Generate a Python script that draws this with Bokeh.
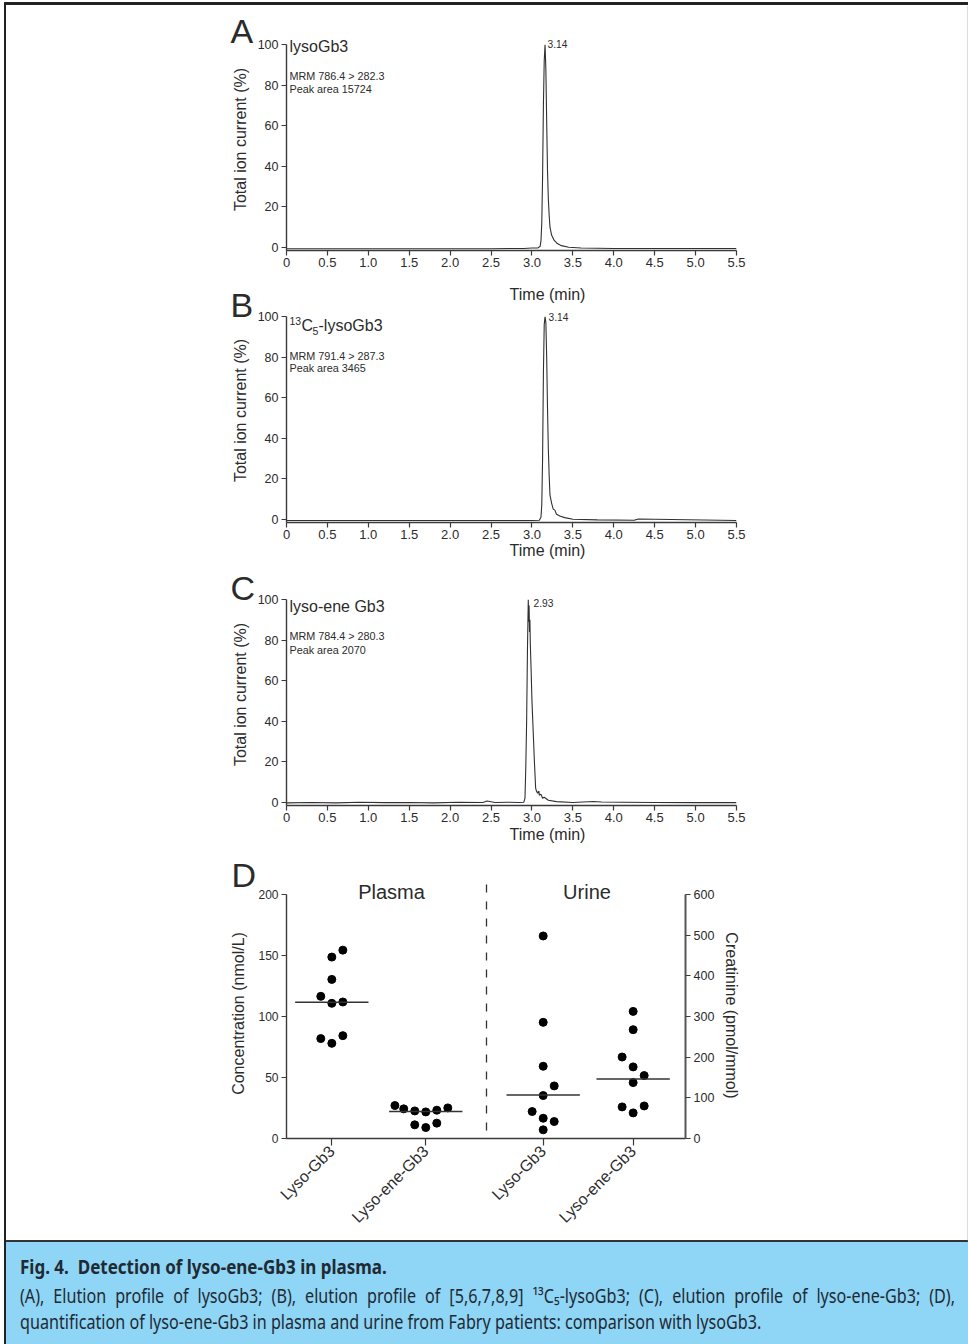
from math import pi

from bokeh.embed import file_html
from bokeh.layouts import column
from bokeh.models import Div, FixedTicker, Label, LinearAxis, PrintfTickFormatter, Range1d
from bokeh.plotting import figure
from bokeh.resources import INLINE

# chromatograms
time_a = [0, 0.5, 1.0, 1.5, 2.0, 2.5, 2.9, 3.0, 3.07, 3.10, 3.11, 3.12, 3.13, 3.14, 3.15, 3.16, 3.17, 3.18, 3.19, 3.20,
          3.21, 3.22, 3.24, 3.27, 3.31, 3.36, 3.45, 3.6, 4.0, 5.5]
pct_a = [-0.7, -0.7, -0.7, -0.7, -0.7, -0.7, -0.6, -0.4, -0.4, 0.5, 3, 12, 35, 70, 92, 100, 88, 62, 38, 24,
         16, 10, 6, 3.5, 1.8, 0.8, 0, -0.4, -0.6, -0.6]

time_b = [0, 0.5, 1.0, 1.5, 2.0, 2.5, 3.0, 3.09, 3.11, 3.12, 3.13, 3.14, 3.15, 3.16, 3.17, 3.18, 3.19, 3.20, 3.21, 3.22,
          3.24, 3.26, 3.28, 3.30, 3.34, 3.4, 3.5, 3.8, 4.25, 4.3, 5.5]
pct_b = [-0.6, -0.6, -0.6, -0.6, -0.6, -0.6, -0.6, -0.5, 1, 7, 30, 72, 96, 100, 97, 80, 55, 35, 22, 12,
         8, 5, 4.5, 2.5, 1.6, 0.8, 0, -0.3, -0.5, 0.1, -0.6]

time_c = [0, 0.3, 0.6, 0.9, 1.2, 1.5, 1.8, 2.1, 2.4, 2.45, 2.55, 2.7, 2.85, 2.90, 2.915, 2.925, 2.935, 2.945, 2.955,
          2.96, 2.965, 2.97, 2.975, 2.98, 2.99, 3.0, 3.015, 3.03, 3.045, 3.055, 3.07, 3.085, 3.09, 3.11, 3.13, 3.15, 3.2,
          3.3, 3.5, 3.75, 3.85, 4.1, 4.5, 5.0, 5.5]
pct_c = [-0.3, -0.1, -0.3, 0, -0.2, -0.1, -0.3, 0, -0.1, 0.6, -0.1, 0, -0.1, 0, 2, 18, 40, 75, 100,
         89, 97, 84, 90, 78, 65, 50, 35, 20, 7, 5.5, 4.5, 5.5, 3.5, 4, 2, 2.5, 1,
         0.3, -0.1, 0.4, 0.1, 0, -0.1, -0.2, -0.2]

# scatter panel, concentration against the left axis
groups = ["Lyso-Gb3", "Lyso-ene-Gb3", "Lyso-Gb3", "Lyso-ene-Gb3"]
group_x = [0.477, 1.466, 2.702, 3.649]
plasma_gb3 = [154.4, 148.7, 130.4, 116.5, 110.8, 111.9, 81.9, 78.0, 84.3]
plasma_gb3_off = [1, 0, 0, -1, 0, 1, -1, 0, 1]
plasma_ene = [27.0, 24.3, 22.6, 21.8, 23.2, 25.1, 11.2, 9.0, 12.6]
plasma_ene_off = [-2.8, -2, -1, 0, 1, 2, -1, 0, 1]
urine_gb3 = [166.0, 95.2, 59.2, 43.1, 35.2, 22.1, 16.6, 13.9, 7.1]
urine_gb3_off = [0, 0, 0, 1, 0, -1, 0, 1, 0]
urine_ene = [104.2, 89.2, 66.8, 58.7, 51.6, 45.8, 25.9, 26.7, 21.0]
urine_ene_off = [0, 0, -1, 0, 1, 0, -1, 1, 0]
medians = [111.6, 22.1, 35.7, 48.8]

time_ticks = [0, 0.5, 1.0, 1.5, 2.0, 2.5, 3.0, 3.5, 4.0, 4.5, 5.0, 5.5]
pct_ticks = [0, 20, 40, 60, 80, 100]

FONT = "Liberation Sans"
INK = "#2b2b2b"
LEFT = 280
WIDTH = 962
ORIGIN_X = 6
ORIGIN_Y = 5


def style_axis(ax, tick_size="12.5px"):
    ax.axis_line_color = "#3a3a3a"
    ax.axis_line_width = 1.4
    ax.major_tick_line_color = "#3a3a3a"
    ax.major_tick_line_width = 1.2
    ax.major_tick_in = 0
    ax.major_tick_out = 5
    ax.minor_tick_line_color = None
    ax.major_label_text_font = FONT
    ax.major_label_text_font_size = tick_size
    ax.major_label_text_color = INK
    ax.major_label_standoff = 3


def base_figure(height, top, bottom, x_range, y_range, right=232):
    p = figure(width=WIDTH, height=height, x_range=x_range, y_range=y_range,
               output_backend="svg", toolbar_location=None, frame_align=False,
               min_border_left=LEFT, min_border_right=right, min_border_top=top, min_border_bottom=bottom,
               background_fill_color=None, border_fill_color=None, outline_line_color=None)
    p.grid.visible = False
    return p


# labels get clipped to a plot's frame, so the ones outside it live on a see-through
# figure over the whole page whose data units are page pixels
overlay = figure(width=WIDTH, height=1339, x_range=Range1d(ORIGIN_X, ORIGIN_X + WIDTH),
                 y_range=Range1d(ORIGIN_Y + 1339, ORIGIN_Y), x_axis_location=None, y_axis_location=None,
                 output_backend="svg", toolbar_location=None, frame_align=False,
                 min_border=0, background_fill_color=None, border_fill_color=None, outline_line_color=None,
                 styles={"position": "absolute", "left": "0px", "top": "0px", "pointer-events": "none"})
overlay.grid.visible = False


def note(x, y, text, size, **kw):
    overlay.add_layout(Label(x=x, y=y, text=text, text_font=FONT, text_font_size=size, text_color=INK,
                             text_baseline="middle", **kw))


def chromatogram(times, pcts, height, top, bottom, margin_top, letter, letter_y, mrm, mrm_y, area, area_y,
                 peak, peak_x, peak_y, time_y, label_y):
    p = base_figure(height, top, bottom, Range1d(0, 5.5), Range1d(-1.6, 100))
    p.line(times, pcts, line_color="#303030", line_width=1.1)
    p.xaxis.ticker = FixedTicker(ticks=time_ticks)
    p.xaxis.formatter = PrintfTickFormatter(format="%.1f")
    p.xaxis.major_label_overrides = {0: "0"}
    p.yaxis.ticker = FixedTicker(ticks=pct_ticks)
    style_axis(p.xaxis[0], tick_size="13px")
    p.xaxis.major_label_standoff = 2
    style_axis(p.yaxis[0])
    note(230, letter_y, letter, "34px")
    note(289, area_y, "Peak area " + area, "10.8px")
    note(289, mrm_y, "MRM " + mrm, "10.8px")
    note(peak_x, peak_y, peak, "10.2px")
    note(547, time_y, "Time (min)", "16px", text_align="center")
    note(240, label_y, "Total ion current (%)", "16px", text_align="center", angle=pi / 2)
    if margin_top:
        p.margin = (-margin_top, 0, 0, 0)
    return p


panel_a = chromatogram(time_a, pct_a, 301, 39, 56, 0, "A", 30, "786.4 > 282.3", 75, "15724", 88, "3.14", 547, 43, 294, 139)
panel_b = chromatogram(time_b, pct_b, 270, 26, 38, 16, "B", 304, "791.4 > 287.3", 355, "3465", 367, "3.14", 548, 316, 550, 410)
panel_c = chromatogram(time_c, pct_c, 285, 39, 40, 0, "C", 587, "784.4 > 280.3", 635, "2070", 649, "2.93", 533, 602, 834, 694)
note(289, 46, "lysoGb3", "16px")
note(289, 606, "lyso-ene Gb3", "16px")
note(289, 320, "13", "10.5px")
note(301, 325, "C", "16px")
note(312, 330, "5", "10.5px")
note(318, 325, "-lysoGb3", "16px")

# scatter panel
panel_d = base_figure(395, 49, 102, Range1d(0, 4.2), Range1d(0, 200), right=283)
panel_d.extra_y_ranges = {"creatinine": Range1d(0, 600)}
step = 0.116
half = 0.386
for center, values, offsets, middle in [(group_x[0], plasma_gb3, plasma_gb3_off, medians[0]),
                                        (group_x[1], plasma_ene, plasma_ene_off, medians[1]),
                                        (group_x[2], urine_gb3, urine_gb3_off, medians[2]),
                                        (group_x[3], urine_ene, urine_ene_off, medians[3])]:
    xs = [center + o * step for o in offsets]
    panel_d.scatter(xs, values, size=8, color="black")
    panel_d.line([center - half, center + half], [middle, middle], line_color="#333333", line_width=1.5)

panel_d.xaxis.ticker = FixedTicker(ticks=group_x)
panel_d.xaxis.major_label_overrides = dict(zip(group_x, groups))
panel_d.xaxis.major_label_orientation = pi / 4
panel_d.yaxis.ticker = FixedTicker(ticks=[0, 50, 100, 150, 200])
right_axis = LinearAxis(y_range_name="creatinine", ticker=FixedTicker(ticks=[0, 100, 200, 300, 400, 500, 600]))
panel_d.add_layout(right_axis, "right")
style_axis(panel_d.xaxis[0], tick_size="16px")
panel_d.xaxis.major_tick_out = 7
style_axis(panel_d.yaxis[0], tick_size="12px")
style_axis(right_axis)
right_axis.axis_line_color = "#555555"
right_axis.axis_line_width = 2
overlay.line([486, 486], [884, 1138], line_color="#333333", line_width=1.3, line_dash="8 9")
overlay.line([967.5, 967.5], [5, 1240], line_color="#bbbbbb", line_width=1)
note(391, 891, "Plasma", "20px", text_align="center")
note(586.5, 891, "Urine", "20px", text_align="center")
note(231, 874, "D", "34px")
note(238, 1013, "Concentration (nmol/L)", "16px", text_align="center", angle=pi / 2)
note(731, 1015, "Creatinine (pmol/mmol)", "16px", text_align="center", angle=-pi / 2)

caption = Div(width=WIDTH, height=104, margin=0, text=(
    "<div style='font-family:\"Noto Sans\",sans-serif;color:#1f2a33;position:absolute;left:14px;top:12px;width:1100px;"
    "transform:scaleX(0.85);transform-origin:left top;font-size:19px;line-height:26px;'>"
    "<div style='font-weight:bold;font-size:20px;margin-bottom:3px;'>Fig. 4. &nbsp;Detection of lyso-ene-Gb3 in plasma.</div>"
    "<div style='text-align:justify;text-align-last:justify;'>(A), Elution profile of lysoGb3; (B), elution profile of "
    "[5,6,7,8,9] ¹³C₅-lysoGb3; (C), elution profile of lyso-ene-Gb3; (D),</div>"
    "<div>quantification of lyso-ene-Gb3 in plasma and urine from Fabry patients: comparison with lysoGb3.</div>"
    "</div>"),
    styles={"background-color": "#8fd5f5", "border-top": "2px solid #333", "box-sizing": "border-box", "overflow": "hidden"})

page = column(panel_a, panel_b, panel_c, panel_d, caption, overlay, spacing=0,
              styles={"position": "absolute", "left": "4px", "top": "2px", "background-color": "white",
                      "border-left": "2px solid #222", "border-top": "3px solid #222"})

open("out.html", "w").write(file_html(page, INLINE))
